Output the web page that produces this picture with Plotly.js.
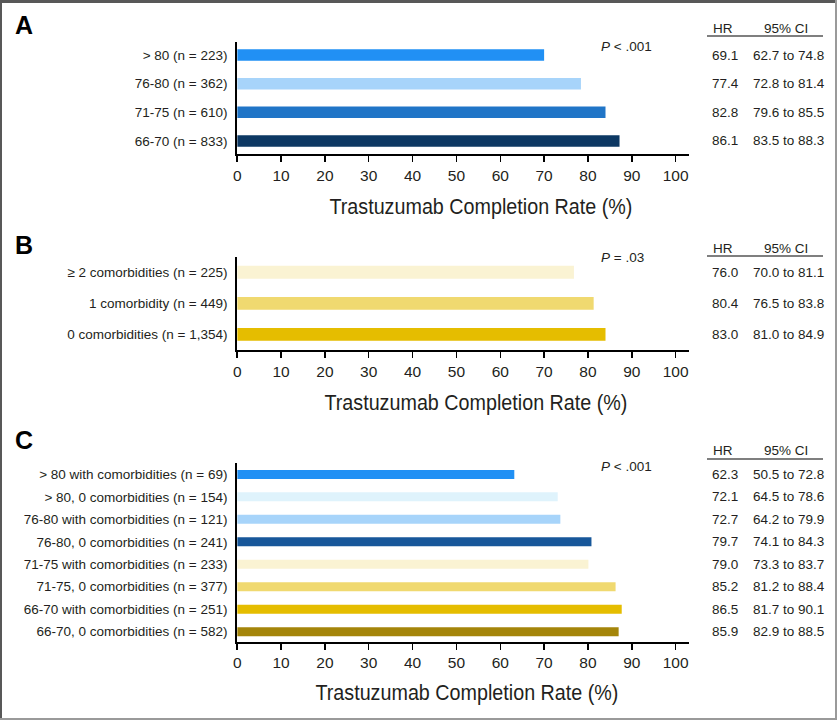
<!DOCTYPE html>
<html>
<head>
<meta charset="utf-8">
<script src="https://cdn.plot.ly/plotly-3.0.1.min.js"></script>
<style>
html,body{margin:0;padding:0;background:#fff;}
#chart{width:837px;height:720px;}
</style>
</head>
<body>
<div id="chart"></div>
<script>
// ---------- DATA ----------
const catsA = ["> 80 (n = 223)", "76-80 (n = 362)", "71-75 (n = 610)", "66-70 (n = 833)"];
const valsA = [70.0, 78.4, 84.0, 87.2];
const colorsA = ["#2190f4", "#a7d4fa", "#2075c7", "#0d3863"];
const hrA = ["69.1", "77.4", "82.8", "86.1"];
const ciA = ["62.7 to 74.8", "72.8 to 81.4", "79.6 to 85.5", "83.5 to 88.3"];
const pA = "<i>P</i> < .001";

const catsB = ["\u2265 2 comorbidities (n = 225)", "1 comorbidity (n = 449)", "0 comorbidities (n = 1,354)"];
const valsB = [76.8, 81.3, 84.0];
const colorsB = ["#faf3d3", "#f0d970", "#e5bd00"];
const hrB = ["76.0", "80.4", "83.0"];
const ciB = ["70.0 to 81.1", "76.5 to 83.8", "81.0 to 84.9"];
const pB = "<i>P</i> = .03";

const catsC = ["> 80 with comorbidities (n = 69)", "> 80, 0 comorbidities (n = 154)",
  "76-80 with comorbidities (n = 121)", "76-80, 0 comorbidities (n = 241)",
  "71-75 with comorbidities (n = 233)", "71-75, 0 comorbidities (n = 377)",
  "66-70 with comorbidities (n = 251)", "66-70, 0 comorbidities (n = 582)"];
const valsC = [63.2, 73.1, 73.7, 80.8, 80.1, 86.3, 87.7, 87.0];
const colorsC = ["#2190f4", "#dff3fc", "#a7d4fa", "#17579a", "#faf3d3", "#f0d970", "#e5bd00", "#a4850a"];
const hrC = ["62.3", "72.1", "72.7", "79.7", "79.0", "85.2", "86.5", "85.9"];
const ciC = ["50.5 to 72.8", "64.5 to 78.6", "64.2 to 79.9", "74.1 to 84.3", "73.3 to 83.7", "81.2 to 88.4", "81.7 to 90.1", "82.9 to 88.5"];
const pC = "<i>P</i> < .001";

const xTicks = [0, 10, 20, 30, 40, 50, 60, 70, 80, 90, 100];
const xTitle = "Trastuzumab Completion Rate (%)";
const panelLetters = ["A", "B", "C"];
const tableHeaders = ["HR", "95% CI"];

// ---------- LAYOUT HELPERS ----------
const W = 837, H = 720;
const px = x => x / W;
const py = y => 1 - y / H;
const TXT = "#231f20";
const FONT = "Liberation Sans, Arial, sans-serif";

const panels = [
  {cats: catsA, vals: valsA, colors: colorsA, hr: hrA, ci: ciA, p: pA, top: 41.7, bot: 154.3, pad: [0.465, 0.465], letterY: 25, pY: 46.7, hdrY: 28.3, lineY: 36, titleX: 481, titleY: 207, bw: 0.4},
  {cats: catsB, vals: valsB, colors: colorsB, hr: hrB, ci: ciB, p: pB, top: 256.7, bot: 350, pad: [0.5, 0.5], letterY: 245, pY: 257.7, hdrY: 248.3, lineY: 256, titleX: 476, titleY: 402, bw: 0.41},
  {cats: catsC, vals: valsC, colors: colorsC, hr: hrC, ci: ciC, p: pC, top: 462.7, bot: 641.7, pad: [0.445, 0.52], letterY: 440, pY: 466.7, hdrY: 450.7, lineY: 459, titleX: 467, titleY: 692, bw: 0.4}
];

const data = [];
const layout = {
  width: W, height: H,
  margin: {l: 0, r: 0, t: 0, b: 0},
  paper_bgcolor: "#fff", plot_bgcolor: "#fff",
  showlegend: false,
  font: {family: FONT, color: TXT, size: 13.5},
  annotations: [], shapes: []
};

panels.forEach((p, i) => {
  const n = i === 0 ? "" : String(i + 1);
  const xa = "x" + n, ya = "y" + n;
  data.push({
    type: "bar", orientation: "h",
    x: p.vals, y: p.cats,
    xaxis: xa, yaxis: ya,
    width: p.bw,
    marker: {color: p.colors, line: {width: 0}},
    hoverinfo: "skip"
  });
  layout["xaxis" + n] = {
    domain: [px(237.2), px(688.8)],
    anchor: ya,
    range: [0, 103],
    tickvals: xTicks,
    ticktext: xTicks.map(String),
    ticks: "outside", ticklen: 6, tickwidth: 1.5, tickcolor: "#000",
    showline: true, linewidth: 2, linecolor: "#000",
    showgrid: false, zeroline: false,
    tickfont: {family: FONT, size: 15.5, color: TXT},
    fixedrange: true
  };
  layout["yaxis" + n] = {
    domain: [py(p.bot), py(p.top)],
    anchor: xa,
    type: "category",
    categoryorder: "array", categoryarray: p.cats,
    range: [p.cats.length - 1 + p.pad[0], -p.pad[1]],
    showline: true, linewidth: 2, linecolor: "#000",
    ticks: "", ticklabelstandoff: 5,
    showgrid: false, zeroline: false,
    tickfont: {family: FONT, size: 13.5, color: TXT},
    fixedrange: true
  };
  layout.annotations.push({
    xref: "paper", yref: "paper", x: px(24), y: py(p.letterY),
    xanchor: "center", yanchor: "middle", showarrow: false,
    text: "<b>" + panelLetters[i] + "</b>",
    font: {family: FONT, size: 25, color: "#000"}
  });
  layout.annotations.push({
    xref: "paper", yref: "paper", x: px(599), y: py(p.pY),
    xanchor: "left", yanchor: "middle", showarrow: false,
    text: p.p, font: {family: FONT, size: 13.5, color: TXT}
  });
  layout.annotations.push({
    xref: "paper", yref: "paper", x: px(p.titleX), y: py(p.titleY),
    xanchor: "center", yanchor: "middle", showarrow: false,
    text: xTitle, name: "axtitle",
    font: {family: FONT, size: 22, color: TXT}
  });
  layout.annotations.push({
    xref: "paper", yref: "paper", x: px(723), y: py(p.hdrY),
    xanchor: "center", yanchor: "middle", showarrow: false,
    text: tableHeaders[0], font: {family: FONT, size: 13.5, color: TXT}
  });
  layout.annotations.push({
    xref: "paper", yref: "paper", x: px(786), y: py(p.hdrY),
    xanchor: "center", yanchor: "middle", showarrow: false,
    text: tableHeaders[1], font: {family: FONT, size: 13.5, color: TXT}
  });
  layout.shapes.push({
    type: "line", xref: "paper", yref: "paper",
    x0: px(707), x1: px(823), y0: py(p.lineY), y1: py(p.lineY),
    line: {color: "#000", width: 1.2}
  });
  p.cats.forEach((c, k) => {
    layout.annotations.push({
      xref: "paper", yref: ya, x: px(710), y: c,
      xanchor: "left", yanchor: "middle", showarrow: false,
      text: p.hr[k], font: {family: FONT, size: 13.5, color: TXT}
    });
    layout.annotations.push({
      xref: "paper", yref: ya, x: px(750.5), y: c,
      xanchor: "left", yanchor: "middle", showarrow: false,
      text: p.ci[k], font: {family: FONT, size: 13.5, color: TXT}
    });
  });
});

// frame
layout.shapes.push(
  {type: "rect", xref: "paper", yref: "paper", x0: 0, x1: 1, y0: py(3), y1: 1, fillcolor: "#585858", line: {width: 0}},
  {type: "rect", xref: "paper", yref: "paper", x0: 0, x1: px(2), y0: 0, y1: 1, fillcolor: "#585858", line: {width: 0}},
  {type: "rect", xref: "paper", yref: "paper", x0: px(835), x1: 1, y0: 0, y1: 1, fillcolor: "#9a9a9a", line: {width: 0}},
  {type: "rect", xref: "paper", yref: "paper", x0: 0, x1: 1, y0: 0, y1: py(718), fillcolor: "#9a9a9a", line: {width: 0}}
);

Plotly.newPlot("chart", data, layout, {staticPlot: true, displayModeBar: false}).then(gd => {
  // condense the axis-title text horizontally, like the narrow face of the original
  gd.querySelectorAll("g.annotation text.annotation-text").forEach(t => {
    if (t.textContent === xTitle) {
      t.setAttribute("textLength", "303");
      t.setAttribute("lengthAdjust", "spacingAndGlyphs");
    }
  });
});
</script>
</body>
</html>
